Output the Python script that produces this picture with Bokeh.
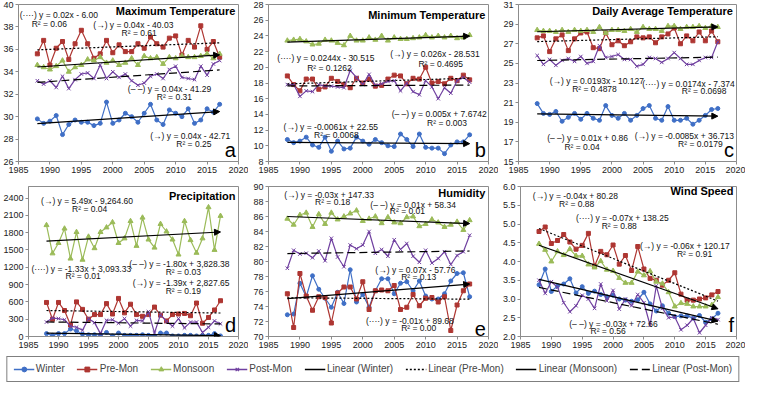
import numpy as np
from bokeh.plotting import figure
from bokeh.layouts import column, row
from bokeh.models import (Range1d, FixedTicker, PrintfTickFormatter, Arrow, NormalHead,
                          Legend, LegendItem)
from bokeh.core.properties import value
from bokeh.embed import file_html
from bokeh.resources import INLINE

# ---------------- data ----------------
years = list(range(1988, 2018))
x_ticks = [1985, 1990, 1995, 2000, 2005, 2010, 2015, 2020]
series_names = ["Winter", "Pre-Mon", "Monsoon", "Post-Mon"]

tmax_winter = [29.8, 29.4, 29.6, 30.1, 28.4, 29.3, 29.7, 29.5, 29.5, 29.2, 29.4, 31.3, 29.4, 29.7, 30.3,
               30.0, 29.5, 30.3, 31.1, 29.7, 29.3, 30.6, 30.3, 30.0, 30.7, 29.4, 29.7, 30.7, 30.4, 31.1]
tmax_premon = [35.6, 36.8, 34.6, 36.1, 36.7, 35.1, 36.5, 37.7, 36.5, 35.2, 35.6, 36.8, 35.7, 36.4, 35.8,
               35.8, 36.5, 36.1, 37.1, 36.5, 36.2, 37.0, 37.2, 35.5, 36.8, 36.2, 38.1, 36.0, 36.7, 35.3]
tmax_monsoon = [34.6, 34.4, 34.2, 34.5, 35.0, 34.0, 34.4, 34.6, 35.1, 35.0, 35.3, 34.8, 35.0, 34.6, 34.8,
                35.2, 34.6, 35.4, 35.2, 35.3, 34.7, 35.3, 35.2, 35.4, 35.3, 35.3, 35.4, 35.6, 35.2, 35.6]
tmax_postmon = [33.2, 32.9, 33.2, 32.6, 33.6, 32.5, 33.3, 33.8, 33.9, 33.4, 34.6, 33.4, 34.0, 33.5, 33.8,
                33.2, 32.8, 33.0, 33.6, 33.8, 33.4, 34.2, 34.5, 33.5, 33.4, 33.3, 34.5, 33.7, 34.7, 35.0]

tmin_winter = [10.8, 10.4, 10.6, 11.1, 10.1, 9.8, 11.1, 9.3, 10.6, 9.6, 9.7, 11.1, 10.6, 10.2, 10.8,
               10.4, 10.0, 9.9, 11.5, 10.8, 9.9, 11.5, 9.8, 9.7, 9.7, 9.0, 10.1, 10.5, 10.5, 11.4]
tmin_premon = [18.9, 17.8, 17.0, 18.5, 18.5, 17.2, 17.5, 18.6, 18.2, 17.8, 17.4, 18.6, 18.0, 18.5, 17.6,
               17.7, 18.5, 19.0, 18.9, 17.9, 18.6, 18.5, 20.0, 18.0, 18.2, 17.9, 18.6, 18.3, 19.0, 18.4]
tmin_monsoon = [23.4, 23.5, 23.6, 23.3, 22.9, 23.0, 23.5, 23.4, 23.1, 22.8, 24.0, 23.4, 23.4, 23.8, 23.5,
                24.0, 23.4, 23.8, 23.6, 23.6, 23.7, 23.8, 24.1, 23.8, 24.0, 23.8, 24.0, 23.7, 23.8, 24.1]
tmin_postmon = [17.8, 17.8, 16.3, 17.0, 16.9, 17.8, 17.6, 17.6, 17.5, 17.4, 19.6, 18.7, 17.8, 19.1, 17.7,
                17.9, 18.2, 18.3, 17.0, 18.0, 16.9, 16.5, 18.3, 17.5, 16.0, 17.4, 16.7, 18.3, 18.7, 18.1]

tavg_winter = [20.9, 19.9, 19.8, 20.1, 19.1, 19.5, 19.9, 19.3, 19.9, 19.4, 19.2, 20.7, 19.7, 19.4, 19.9,
               19.2, 19.7, 20.4, 20.7, 19.4, 19.2, 20.6, 19.2, 19.2, 19.4, 18.8, 19.2, 19.7, 20.3, 20.4]
tavg_premon = [27.6, 27.8, 26.2, 27.5, 27.9, 26.3, 27.5, 28.1, 28.2, 26.6, 26.5, 28.1, 26.9, 27.3, 26.8,
               27.2, 27.7, 27.6, 27.7, 27.1, 27.7, 28.0, 28.6, 27.0, 27.8, 27.3, 28.2, 27.3, 28.3, 27.2]
tavg_monsoon = [28.4, 28.3, 28.3, 28.2, 28.4, 28.2, 28.4, 28.3, 28.4, 28.2, 28.7, 28.1, 28.4, 28.4, 28.3,
                28.5, 28.2, 28.7, 28.5, 28.5, 28.3, 28.8, 28.8, 28.5, 28.7, 28.7, 28.8, 28.6, 28.8, 28.7]
tavg_postmon = [25.8, 24.9, 25.4, 24.8, 25.3, 25.5, 25.2, 25.7, 25.0, 25.2, 26.8, 25.6, 25.7, 25.9, 25.4,
                25.4, 24.7, 24.9, 25.6, 25.5, 25.1, 25.5, 26.1, 25.5, 24.9, 24.9, 25.3, 25.6, 25.6, 27.2]

prec_winter = [50, 20, 50, 50, 130, 100, 40, 30, 30, 30, 70, 10, 60, 20, 20,
               20, 30, 20, 10, 60, 60, 10, 10, 20, 20, 10, 20, 20, 50, 10]
prec_premon = [590, 300, 590, 450, 200, 600, 470, 300, 380, 380, 570, 390, 660, 410, 560,
               380, 350, 380, 510, 370, 270, 380, 390, 400, 360, 580, 230, 330, 460, 620]
prec_monsoon = [1930, 1440, 1620, 1870, 1350, 1810, 1330, 1730, 1530, 1810, 1890, 1980, 1620, 1700, 2000,
                1570, 2060, 1680, 1540, 1950, 1820, 1680, 1420, 2000, 1670, 1450, 1700, 2240, 1500, 2090]
prec_postmon = [250, 320, 310, 290, 180, 160, 110, 310, 240, 50, 280, 290, 230, 310, 180,
                280, 270, 430, 60, 380, 260, 180, 310, 150, 250, 250, 70, 160, 270, 220]

hum_winter = [72.9, 73.0, 77.1, 75.3, 78.1, 76.3, 75.1, 73.9, 75.9, 74.4, 78.9, 74.6, 75.6, 73.9, 76.1,
              77.7, 77.7, 75.7, 77.1, 77.3, 76.1, 77.4, 75.4, 75.0, 75.0, 75.7, 77.4, 78.4, 78.5, 75.3]
hum_premon = [75.7, 71.2, 78.4, 75.4, 73.5, 75.3, 75.2, 71.8, 75.8, 76.6, 76.6, 75.0, 77.3, 73.6, 76.1,
              76.2, 76.1, 76.8, 73.6, 73.9, 75.6, 74.1, 75.1, 75.2, 74.6, 75.3, 70.8, 74.2, 76.1, 77.0]
hum_monsoon = [85.7, 84.9, 86.2, 86.5, 84.6, 86.3, 85.0, 86.5, 85.6, 86.0, 86.4, 86.8, 85.4, 85.7, 86.0,
               85.1, 85.9, 85.2, 85.1, 85.9, 86.0, 84.7, 85.0, 85.6, 85.2, 84.6, 84.9, 85.3, 84.2, 85.5]
hum_postmon = [79.1, 81.5, 81.0, 81.1, 80.5, 81.4, 80.1, 83.1, 80.6, 79.3, 82.2, 81.7, 82.2, 84.0, 81.1,
               81.6, 80.7, 82.9, 81.6, 82.4, 80.7, 79.9, 81.5, 79.8, 80.4, 81.3, 79.6, 80.8, 81.3, 83.5]

wind_winter = [3.38, 3.80, 3.20, 3.35, 3.40, 3.54, 3.16, 3.33, 3.15, 3.21, 3.12, 3.06, 3.10, 3.00, 2.97,
               2.94, 2.98, 3.18, 2.87, 2.68, 2.82, 2.62, 2.53, 2.55, 2.55, 2.49, 2.56, 2.38, 2.47, 2.62]
wind_premon = [4.80, 4.92, 4.48, 4.56, 4.72, 4.52, 4.33, 4.43, 4.75, 3.88, 4.27, 4.18, 4.44, 3.93, 4.16,
               3.76, 4.40, 3.80, 3.55, 3.50, 3.37, 3.50, 3.70, 3.13, 2.97, 2.97, 3.00, 3.03, 3.11, 3.20]
wind_monsoon = [4.47, 4.31, 4.00, 4.27, 4.17, 4.33, 4.15, 4.15, 3.92, 3.84, 4.01, 3.78, 3.75, 3.56, 3.43,
                3.43, 3.73, 3.63, 3.74, 3.46, 3.41, 3.18, 2.80, 2.89, 2.87, 2.80, 2.80, 2.80, 2.84, 3.05]
wind_postmon = [3.50, 3.15, 3.46, 3.31, 2.90, 2.66, 2.82, 3.10, 3.00, 2.75, 3.40, 2.95, 3.23, 2.73, 3.00,
                2.82, 3.12, 2.90, 2.30, 3.35, 2.75, 2.50, 2.52, 2.18, 2.30, 2.48, 2.10, 2.30, 2.50, 2.45]

# panel texts
titles = ["Maximum Temperature", "Minimum Temperature", "Daily Average Temperature",
          "Precipitation", "Humidity", "Wind Speed"]
letters = ["a", "b", "c", "d", "e", "f"]
eq_texts = [
    ["(····) y = 0.02x - 6.00", "(→) y = 0.04x - 40.03", "(– –) y = 0.04x - 41.29", "(→) y = 0.04x - 42.71"],
    ["(····) y = 0.0244x - 30.515", "(→) y = 0.026x - 28.531", "(– –) y = 0.005x + 7.6742", "(→) y = -0.0061x + 22.55"],
    ["(→) y = 0.0193x - 10.127", "(····) y = 0.0174x - 7.374", "(– –) y = 0.01x + 0.86", "(→) y = -0.0085x + 36.713"],
    ["(→) y = 5.49x - 9,264.60", "(····) y = -1.33x + 3,093.33", "(– –) y = -1.80x + 3,828.38", "(→) y = -1.39x + 2,827.65"],
    ["(→) y = -0.03x + 147.33", "(– –) y = 0.01x + 58.34", "(→) y = 0.07x - 57.76", "(····) y = -0.01x + 89.68"],
    ["(→) y = -0.04x + 80.28", "(····) y = -0.07x + 138.25", "(→) y = -0.06x + 120.17", "(– –) y = -0.03x + 72.66"],
]
r2_texts = [
    ["R² = 0.06", "R² = 0.61", "R² = 0.31", "R² = 0.25"],
    ["R² = 0.1262", "R² = 0.4695", "R² = 0.003", "R² = 0.0068"],
    ["R² = 0.4878", "R² = 0.0698", "R² = 0.04", "R² = 0.0179"],
    ["R² = 0.04", "R² = 0.01", "R² = 0.03", "R² = 0.19"],
    ["R² = 0.18", "R² = 0.01", "R² = 0.13", "R² = 0.00"],
    ["R² = 0.88", "R² = 0.88", "R² = 0.91", "R² = 0.56"],
]

# ---------------- layout / style config ----------------
panel_data = [
    [tmax_winter, tmax_premon, tmax_monsoon, tmax_postmon],
    [tmin_winter, tmin_premon, tmin_monsoon, tmin_postmon],
    [tavg_winter, tavg_premon, tavg_monsoon, tavg_postmon],
    [prec_winter, prec_premon, prec_monsoon, prec_postmon],
    [hum_winter, hum_premon, hum_monsoon, hum_postmon],
    [wind_winter, wind_premon, wind_monsoon, wind_postmon],
]
y_ranges = [(26, 40), (8, 28), (15, 31), (0, 2600), (70, 90), (2.0, 6.0)]
y_ticks = [list(range(26, 41, 2)), list(range(8, 29, 2)), list(range(15, 32, 2)),
           list(range(0, 2401, 300)), list(range(70, 91, 2)), [2.0, 2.5, 3.0, 3.5, 4.0, 4.5, 5.0, 5.5, 6.0]]
# (width, height, left, right, top, bottom)
sizes = [(248, 178, 18, 10, 4, 17), (250, 178, 20, 10, 4, 17), (247, 178, 20, 9, 4, 17),
         (248, 174, 27, 10, 8, 16), (250, 174, 20, 10, 5, 16), (247, 174, 22, 9, 8, 16)]
# (x, y, align)
eq_pos = [
    [(1985.2, 39.05, "left"), (1996.9, 38.14, "left"), (2002.4, 32.43, "left"), (2018.7, 28.29, "right")],
    [(1986.4, 21.13, "left"), (2018.6, 21.65, "right"), (2019.7, 14.09, "right"), (1987.4, 12.43, "left")],
    [(1990.0, 23.18, "left"), (2019.7, 22.88, "right"), (1989.6, 17.36, "left"), (2019.6, 17.59, "right")],
    [(1987.1, 2346, "left"), (1985.5, 1176, "left"), (2018.5, 1255, "right"), (2018.5, 928, "right")],
    [(1987.5, 88.88, "left"), (2001.2, 87.59, "left"), (2002.0, 78.84, "left"), (2000.5, 72.13, "left")],
    [(1987.0, 5.74, "left"), (1994.0, 5.16, "left"), (2018.9, 4.41, "right"), (1992.9, 2.34, "left")],
]
r2_pos = [
    [(1989.9, 38.3), (2004.2, 37.43), (2009.8, 31.71), (2012.9, 27.57)],
    [(1994.7, 19.96), (2012.4, 20.48), (2013.4, 12.87), (1995.8, 11.35)],
    [(1997.2, 22.36), (2014.8, 22.14), (1995.2, 16.52), (2014.2, 16.78)],
    [(1995.2, 2214), (1994.1, 1044), (2010.8, 1112), (2010.8, 796)],
    [(1995.2, 87.87), (2007.1, 86.67), (2008.9, 77.95), (2008.9, 71.12)],
    [(1994.1, 5.54), (2001.0, 4.94), (2013.2, 4.21), (1999.2, 2.14)],
]
title_y = [39.43, 26.7, 30.35, 2441, 89.08, 5.88]

colors = ["#3F6FC6", "#AE3632", "#9BBB59", "#7040A0"]
markers = ["circle", "square", "triangle", "x"]
msizes = [4, 4, 5, 5]
trend_dash = ["solid", "2 2", "solid", "8 4"]
trend_arrow = [True, False, True, False]
FONT = "Liberation Sans"
AXC = "#8c8c8c"


def make_panel(i):
    w, h, bl, br, bt, bb = sizes[i]
    y0, y1 = y_ranges[i]
    p = figure(width=w, height=h, output_backend="svg", toolbar_location=None,
               x_range=Range1d(1985, 2020), y_range=Range1d(y0, y1),
               min_border_left=bl, min_border_right=br, min_border_top=bt, min_border_bottom=bb)
    p.xgrid.visible = False
    p.ygrid.visible = False
    p.outline_line_color = AXC
    p.xaxis.ticker = FixedTicker(ticks=x_ticks)
    p.yaxis.ticker = FixedTicker(ticks=y_ticks[i])
    if i == 5:
        p.yaxis.formatter = PrintfTickFormatter(format="%.1f")
    for ax in (p.xaxis[0], p.yaxis[0]):
        ax.major_label_text_font = FONT
        ax.major_label_text_font_size = "9px"
        ax.major_label_text_color = "#222222"
        ax.major_tick_in = 0
        ax.major_tick_out = 3
        ax.minor_tick_line_color = None
        ax.axis_line_color = AXC
        ax.major_tick_line_color = AXC
        ax.major_label_standoff = 2

    data = panel_data[i]
    for k in range(4):
        p.line(years, data[k], color=colors[k], line_width=1.2)
        if markers[k] == "x":
            p.scatter(years, data[k], marker="x", size=msizes[k], line_color=colors[k], line_width=1.0)
        else:
            p.scatter(years, data[k], marker=markers[k], size=msizes[k], fill_color=colors[k],
                      line_color=colors[k])
    for k in range(4):
        slope, icpt = np.polyfit(years, data[k], 1)
        ys = slope * years[0] + icpt
        ye = slope * years[-1] + icpt
        if trend_arrow[k]:
            p.add_layout(Arrow(end=NormalHead(size=6, fill_color="black", line_color="black"),
                               x_start=years[0], y_start=ys, x_end=years[-1], y_end=ye,
                               line_color="black", line_width=1.2))
        else:
            p.line([years[0], years[-1]], [ys, ye], color="black", line_width=1.2,
                   line_dash=trend_dash[k])

    for (ex, ey, al), t in zip(eq_pos[i], eq_texts[i]):
        p.text(x=[ex], y=[ey], text=[t], text_font=value(FONT), text_font_size=value("8.5px"),
               text_align=al, text_baseline="middle", text_color="#111111")
    rx = [pt[0] for pt in r2_pos[i]]
    ry = [pt[1] for pt in r2_pos[i]]
    p.text(x=rx, y=ry, text=r2_texts[i], text_font=value(FONT), text_font_size=value("8.5px"),
           text_align="center", text_baseline="middle", text_color="#111111")
    p.text(x=[2019.5], y=[title_y[i]], text=[titles[i]], text_font=value(FONT),
           text_font_size=value("11px"), text_font_style="bold", text_align="right",
           text_baseline="middle", text_color="black")
    p.text(x=[2019.6], y=[y0 + 0.005 * (y1 - y0)], text=[letters[i]], text_font=value(FONT),
           text_font_size=value("20px"), text_align="right", text_baseline="bottom",
           text_color="black")
    return p


panels = [make_panel(i) for i in range(6)]

# legend figure (placeholder renderers hold a single NaN so nothing is drawn in the frame)
lg = figure(width=745, height=33, output_backend="svg", toolbar_location=None,
            x_range=Range1d(0, 1), y_range=Range1d(0, 1), min_border=0)
lg.axis.visible = False
lg.xgrid.visible = False
lg.ygrid.visible = False
lg.outline_line_color = None
nan = [float("nan")]
items = []
for k in range(4):
    r1 = lg.line(x=nan, y=nan, color=colors[k], line_width=1.5)
    if markers[k] == "x":
        r2 = lg.scatter(x=nan, y=nan, marker="x", size=6, line_color=colors[k], line_width=1.2)
    else:
        r2 = lg.scatter(x=nan, y=nan, marker=markers[k], size=6, fill_color=colors[k], line_color=colors[k])
    items.append(LegendItem(label=series_names[k], renderers=[r1, r2]))
for k in range(4):
    r = lg.line(x=nan, y=nan, color="black", line_width=1.6, line_dash=trend_dash[k])
    items.append(LegendItem(label="Linear (" + series_names[k] + ")", renderers=[r]))
legend = Legend(items=items, orientation="horizontal", location="center",
                label_text_font=FONT, label_text_font_size="10px", label_standoff=2,
                glyph_width=21, glyph_height=12, spacing=12, padding=6, margin=0,
                border_line_color="black", border_line_width=1,
                label_height=12)
lg.add_layout(legend, "center")

layout = column(row(panels[0], panels[1], panels[2], spacing=0),
                row(panels[3], panels[4], panels[5], spacing=0),
                lg, spacing=0)

with open("out.html", "w") as f:
    f.write(file_html(layout, INLINE))
